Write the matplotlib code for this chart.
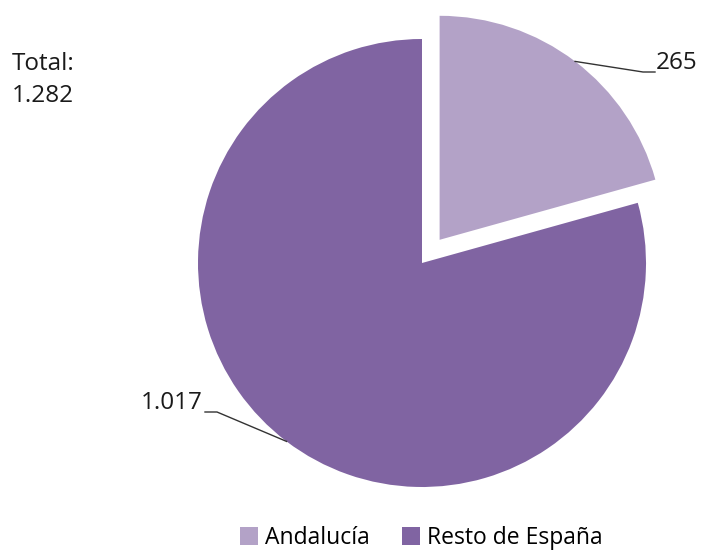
import numpy as np
import matplotlib.pyplot as plt
from matplotlib.patches import Patch

# data
categorias = ['Andalucía', 'Resto de España']
valores = [265, 1017]
etiquetas = ['265', '1.017']
colores = ['#B3A2C7', '#8064A2']
total = '1.282'

W, H = 703, 552
fig = plt.figure(figsize=(W / 100, H / 100), dpi=100)
ax = fig.add_axes([0, 0, 1, 1])

cx, cy, r = 422, 289, 224
expl = 0.13 * r  # pie offsets are in data units
wedges, _ = ax.pie(valores, colors=colores, startangle=90, counterclock=False,
                   center=(cx, cy), radius=r, explode=[expl, 0],
                   wedgeprops=dict(linewidth=0), frame=True)
ax.set_xlim(0, W)
ax.set_ylim(0, H)
ax.set_aspect('equal')
ax.axis('off')

fs = 17.5
# leader lines + labels
for i, (w, lab) in enumerate(zip(wedges, etiquetas)):
    ang = np.deg2rad((w.theta1 + w.theta2) / 2)
    ccx, ccy = w.center
    ex, ey = ccx + r * np.cos(ang), ccy + r * np.sin(ang)
    if i == 0:
        kx, ky = 643, H - 72
        ax.plot([ex, kx, kx + 12], [ey, ky, ky], color='#333333', lw=1)
        ax.text(kx + 13, ky - 3, lab, fontsize=fs, va='bottom', ha='left',
                color='#1a1a1a', family='Open Sans')
    else:
        kx, ky = 217, H - 412
        ax.plot([ex, kx, kx - 12], [ey, ky, ky], color='#333333', lw=1)
        ax.text(kx - 14, ky - 3, lab, fontsize=fs, va='bottom', ha='right',
                color='#1a1a1a', family='Open Sans')

fig.text(12 / W, 1 - 80 / H, 'Total:\n' + total, fontsize=fs, va='center',
         ha='left', color='#1a1a1a', family='Open Sans', linespacing=1.45)

handles = [Patch(facecolor=c, edgecolor='none') for c in colores]
leg = fig.legend(handles, categorias, loc='center', bbox_to_anchor=(421 / W, 1 - 538 / H),
                 ncol=2, frameon=False, prop={'family': 'Open Sans', 'size': 16.5},
                 handlelength=0.8, handleheight=0.8, handletextpad=0.3, columnspacing=1.4)

fig.savefig('out.png', dpi=100)
